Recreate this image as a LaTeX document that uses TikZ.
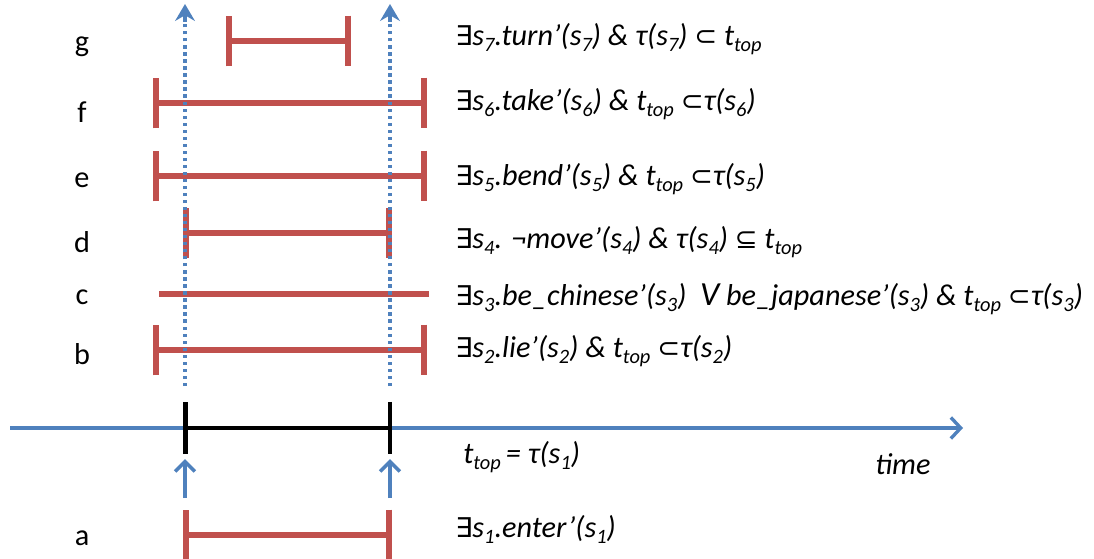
\documentclass[tikz,border=0pt]{standalone}
\usepackage{fontspec}
\setmainfont{Carlito}
\newfontfamily\symfont[Scale=0.9]{DejaVu Sans}
\usetikzlibrary{arrows.meta}
\definecolor{barred}{RGB}{192,80,77}
\definecolor{axisblue}{RGB}{79,129,189}
\newcommand{\lo}[1]{\raisebox{-4.5pt}{\fontsize{14.5}{15}\selectfont #1}}
\newcommand{\sym}[1]{{\symfont\upshape #1}}

\begin{document}
\begin{tikzpicture}[x=0.025cm,y=-0.025cm,
	interval/.style={barred,line width=4pt,{Bar[width=36pt]}-{Bar[width=36pt]}},
	plain/.style={barred,line width=4pt},
	formula/.style={anchor=base west,inner sep=0,font=\fontsize{21.5}{26}\selectfont\itshape},
	rowlabel/.style={anchor=base,inner sep=0,font=\fontsize{21.5}{26}\selectfont},
	guide/.style={axisblue,line width=2.5pt,dash pattern=on 2.3pt off 2.7pt},
	guidetip/.style={axisblue,line width=2.4pt,-{Stealth[length=12pt,width=14pt,inset=4pt]}},
	lift/.style={axisblue,line width=2.6pt,-{Straight Barb[length=7pt,width=14pt]}}]
	\useasboundingbox (0,0) rectangle (1094,559);
	% row labels
	\node[rowlabel] (g) at (82,52) {g};
	\node[rowlabel] (f) at (82,122) {f};
	\node[rowlabel] (e) at (82,187) {e};
	\node[rowlabel] (d) at (82,252) {d};
	\node[rowlabel] (c) at (82,304) {c};
	\node[rowlabel] (b) at (82,364) {b};
	\node[rowlabel] (a) at (82,545) {a};
	% end points of the intervals
	\coordinate (g1) at (226,41);  \coordinate (g2) at (351,41);
	\coordinate (f1) at (153,103); \coordinate (f2) at (427,103);
	\coordinate (e1) at (153,176); \coordinate (e2) at (427,176);
	\coordinate (d1) at (183,233); \coordinate (d2) at (392,233);
	\coordinate (c1) at (159,294); \coordinate (c2) at (429,294);
	\coordinate (b1) at (153,350); \coordinate (b2) at (427,350);
	\coordinate (a1) at (183,535); \coordinate (a2) at (392,535);
	\draw[interval] (g1) -- (g2);
	\draw[interval] (f1) -- (f2);
	\draw[interval] (e1) -- (e2);
	\draw[interval] (d1) -- (d2);
	\draw[plain] (c1) -- (c2);
	\draw[interval] (b1) -- (b2);
	\draw[interval] (a1) -- (a2);
	% time axis
	\coordinate (t0) at (10,428); \coordinate (t9) at (963,428);
	\coordinate (top1) at (183,428); \coordinate (top2) at (392,428);
	\draw[axisblue,line width=2.4pt,-{Straight Barb[length=7pt,width=15pt]}] (t0) -- (t9);
	\draw[black,line width=3.2pt,{Bar[width=37pt]}-{Bar[width=37pt]}] (top1) -- (top2);
	% projections of t_top
	\coordinate (up1) at (185,4);  \coordinate (neck1) at (185,22); \coordinate (low1) at (185,386);
	\coordinate (up2) at (390,4);  \coordinate (neck2) at (390,22); \coordinate (low2) at (390,386);
	\draw[guide] (low1) -- (neck1);
	\draw[guide] (low2) -- (neck2);
	\draw[guidetip] (neck1) -- (up1);
	\draw[guidetip] (neck2) -- (up2);
	\coordinate (s1) at (185,498); \coordinate (h1) at (185,459);
	\coordinate (s2) at (390,498); \coordinate (h2) at (390,459);
	\draw[lift] (s1) -- (h1);
	\draw[lift] (s2) -- (h2);
	% formulas
	\node[formula] (tg) at (455,45) {\sym{∃}s\lo{7}.turn’(s\lo{7}) \& τ(s\lo{7}) \sym{⊂} t\lo{top}};
	\node[formula] (tf) at (455,110) {\sym{∃}s\lo{6}.take’(s\lo{6}) \& t\lo{top} \sym{⊂}τ(s\lo{6})};
	\node[formula] (te) at (455,185) {\sym{∃}s\lo{5}.bend’(s\lo{5}) \& t\lo{top} \sym{⊂}τ(s\lo{5})};
	\node[formula] (td) at (455,248) {\sym{∃}s\lo{4}. ¬move’(s\lo{4}) \& τ(s\lo{4}) \sym{⊆} t\lo{top}};
	\node[formula] (tc) at (455,305) {\sym{∃}s\lo{3}.be\_chinese’(s\lo{3})\ \ {\fontsize{24}{26}\selectfont V} be\_japanese’(s\lo{3}) \& t\lo{top} \sym{⊂}τ(s\lo{3})};
	\node[formula] (tb) at (455,357) {\sym{∃}s\lo{2}.lie’(s\lo{2}) \& t\lo{top} \sym{⊂}τ(s\lo{2})};
	\node[formula] (ttop) at (463,463) {t\lo{top}\,= τ(s\lo{1})};
	\node[formula] (time) at (875,474) {time};
	\node[formula] (ta) at (455,537) {\sym{∃}s\lo{1}.enter’(s\lo{1})};
\end{tikzpicture}
\end{document}
